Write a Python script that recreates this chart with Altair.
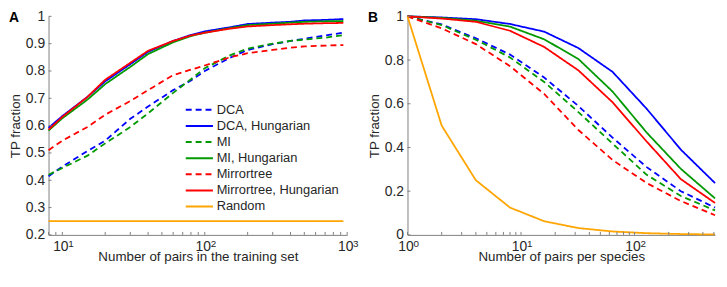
import altair as alt
import pandas as pd

FONT = "Liberation Sans"

series_names = ["DCA", "DCA, Hungarian", "MI", "MI, Hungarian",
                "Mirrortree", "Mirrortree, Hungarian", "Random"]
series_colors = ["#0000ff", "#0000ff", "#009a00", "#009a00",
                 "#ff0000", "#ff0000", "#ffa500"]
series_dashes = [[6, 4], [1, 0], [6, 4], [1, 0], [6, 4], [1, 0], [1, 0]]

# ---- Panel A: number of pairs in the training set ----
a_x = [8, 10, 15, 20, 30, 40, 60, 80, 100, 150, 200, 300, 400, 500, 700, 940]
a_dca = [0.415, 0.45, 0.507, 0.545, 0.625, 0.67, 0.73, 0.765, 0.80, 0.848,
         0.877, 0.898, 0.91, 0.918, 0.93, 0.94]
a_dca_h = [0.592, 0.635, 0.705, 0.762, 0.825, 0.87, 0.91, 0.932, 0.945, 0.96,
           0.972, 0.977, 0.98, 0.985, 0.987, 0.99]
a_mi = [0.42, 0.445, 0.49, 0.535, 0.595, 0.645, 0.72, 0.77, 0.81, 0.857,
        0.882, 0.90, 0.91, 0.915, 0.922, 0.931]
a_mi_h = [0.582, 0.627, 0.695, 0.752, 0.815, 0.862, 0.905, 0.928, 0.94, 0.957,
          0.968, 0.973, 0.977, 0.98, 0.982, 0.983]
a_mt = [0.51, 0.545, 0.595, 0.64, 0.69, 0.73, 0.785, 0.805, 0.82, 0.85,
        0.865, 0.877, 0.885, 0.89, 0.893, 0.895]
a_mt_h = [0.585, 0.632, 0.705, 0.768, 0.83, 0.874, 0.91, 0.93, 0.94, 0.955,
          0.963, 0.968, 0.971, 0.973, 0.975, 0.976]
a_rand = [0.25] * len(a_x)

# ---- Panel B: number of pairs per species ----
b_x = [1, 2, 4, 8, 16, 32, 64, 128, 256, 512]
b_dca = [1, 0.963, 0.90, 0.825, 0.72, 0.59, 0.445, 0.31, 0.20, 0.125]
b_dca_h = [1, 0.995, 0.987, 0.965, 0.93, 0.855, 0.746, 0.577, 0.39, 0.237]
b_mi = [1, 0.96, 0.893, 0.812, 0.70, 0.562, 0.418, 0.275, 0.178, 0.112]
b_mi_h = [1, 0.993, 0.98, 0.953, 0.895, 0.805, 0.656, 0.468, 0.302, 0.167]
b_mt = [1, 0.945, 0.873, 0.772, 0.645, 0.48, 0.343, 0.237, 0.155, 0.09]
b_mt_h = [1, 0.99, 0.975, 0.934, 0.86, 0.753, 0.607, 0.427, 0.255, 0.146]
b_rand = [1, 0.5, 0.25, 0.125, 0.0625, 0.03125, 0.015625, 0.0078125,
          0.00390625, 0.001953125]

# tick positions (drawn inward, MATLAB style)
a_xticks = [8, 9, 10, 20, 30, 40, 50, 60, 70, 80, 90, 100,
            200, 300, 400, 500, 600, 700, 800, 900, 1000]
a_yticks = [0.2, 0.3, 0.4, 0.5, 0.6, 0.7, 0.8, 0.9, 1.0]
b_xticks = [1, 2, 3, 4, 5, 6, 7, 8, 9, 10, 20, 30, 40, 50, 60, 70, 80, 90,
            100, 200, 300, 400, 500]
b_yticks = [0, 0.2, 0.4, 0.6, 0.8, 1.0]
a_decades = [10, 100, 1000]
a_exponents = ["1", "2", "3"]
b_decades = [1, 10, 100]
b_exponents = ["0", "1", "2"]
panel_labels = ["A", "B"]


def long_df(xs, ys_list):
    rows = []
    for name, ys in zip(series_names, ys_list):
        for x, y in zip(xs, ys):
            rows.append({"x": x, "y": y, "series": name})
    return pd.DataFrame(rows)


dfA = long_df(a_x, [a_dca, a_dca_h, a_mi, a_mi_h, a_mt, a_mt_h, a_rand])
dfB = long_df(b_x, [b_dca, b_dca_h, b_mi, b_mi_h, b_mt, b_mt_h, b_rand])

H = 221
WA = 302
WB = 311
GRAY = "#808080"
TXT = "#262626"

axis_base = dict(domainColor=GRAY, domainWidth=1, tickSize=0, grid=False,
                 labelColor=TXT, titleColor=TXT, labelFont=FONT, titleFont=FONT,
                 labelFontSize=14, titleFontSize=13.5, titleFontWeight="normal",
                 labelOverlap=False)


def panel(df, xdomain, ydomain, xticks, yticks, decades, exponents, ylabel_expr,
          xtitle, width, label, with_legend):
    xscale = alt.Scale(type="log", domain=xdomain, nice=False)
    yscale = alt.Scale(domain=ydomain, nice=False, zero=False)
    xaxis = alt.Axis(values=decades, labelExpr="'10'", labelFlush=False,
                     labelOffset=-2, labelPadding=5, titlePadding=-4, **axis_base)
    yaxis = alt.Axis(values=yticks, labelExpr=ylabel_expr,
                     labelPadding=4, titlePadding=3, **axis_base)
    if with_legend:
        leg = alt.Legend(title=None, orient="none", legendX=146, legendY=88,
                         symbolType="M-2.5,0H2.5", symbolSize=121, symbolStrokeWidth=2,
                         labelFont=FONT, labelFontSize=13, labelColor=TXT,
                         labelOffset=11, rowPadding=2.3, padding=0)
    else:
        leg = None
    lines = alt.Chart(df).mark_line(strokeWidth=1.8).encode(
        x=alt.X("x:Q", scale=xscale, title=xtitle, axis=xaxis),
        y=alt.Y("y:Q", scale=yscale, title="TP fraction", axis=yaxis),
        color=alt.Color("series:N", scale=alt.Scale(domain=series_names, range=series_colors),
                        legend=leg),
        strokeDash=alt.StrokeDash("series:N", scale=alt.Scale(domain=series_names, range=series_dashes),
                                  legend=leg),
    )
    xt = alt.Chart(pd.DataFrame({"v": xticks})).mark_rule(color=GRAY, strokeWidth=1).encode(
        x=alt.X("v:Q", scale=xscale, title=xtitle, axis=xaxis),
        y=alt.value(H), y2=alt.value(H - 3))
    yt = alt.Chart(pd.DataFrame({"v": yticks})).mark_rule(color=GRAY, strokeWidth=1).encode(
        y=alt.Y("v:Q", scale=yscale, title="TP fraction", axis=yaxis),
        x=alt.value(0), x2=alt.value(3))
    ex = alt.Chart(pd.DataFrame({"v": decades, "e": exponents})).mark_text(
        font=FONT, fontSize=10, align="left", baseline="top", dx=6, color=TXT).encode(
        x=alt.X("v:Q", scale=xscale, title=xtitle, axis=xaxis),
        y=alt.value(H + 4), text="e:N")
    lab = alt.Chart(pd.DataFrame({"t": [label]})).mark_text(
        font=FONT, fontSize=14, fontWeight="bold", align="left", baseline="middle",
        color="#000000").encode(x=alt.value(-40), y=alt.value(2), text="t:N")
    return alt.layer(lines, yt, xt, ex, lab).properties(width=width, height=H)


A = panel(dfA, [8, 1000], [0.2, 1.0], a_xticks, a_yticks, a_decades, a_exponents,
          "datum.value == 1 ? '1' : format(datum.value, '.1f')",
          "Number of pairs in the training set", WA, panel_labels[0], True)
B = panel(dfB, [1, 512], [0, 1.0], b_xticks, b_yticks, b_decades, b_exponents,
          "datum.value == 0 ? '0' : datum.value == 1 ? '1' : format(datum.value, '.1f')",
          "Number of pairs per species", WB, panel_labels[1], False)

chart = alt.hconcat(A, B, spacing=8).resolve_scale(
    color="independent", strokeDash="independent", x="independent", y="independent"
).properties(padding=0, background="white").configure_view(stroke=None)

chart.save("out.html", embed_options={"renderer": "svg", "actions": False})
